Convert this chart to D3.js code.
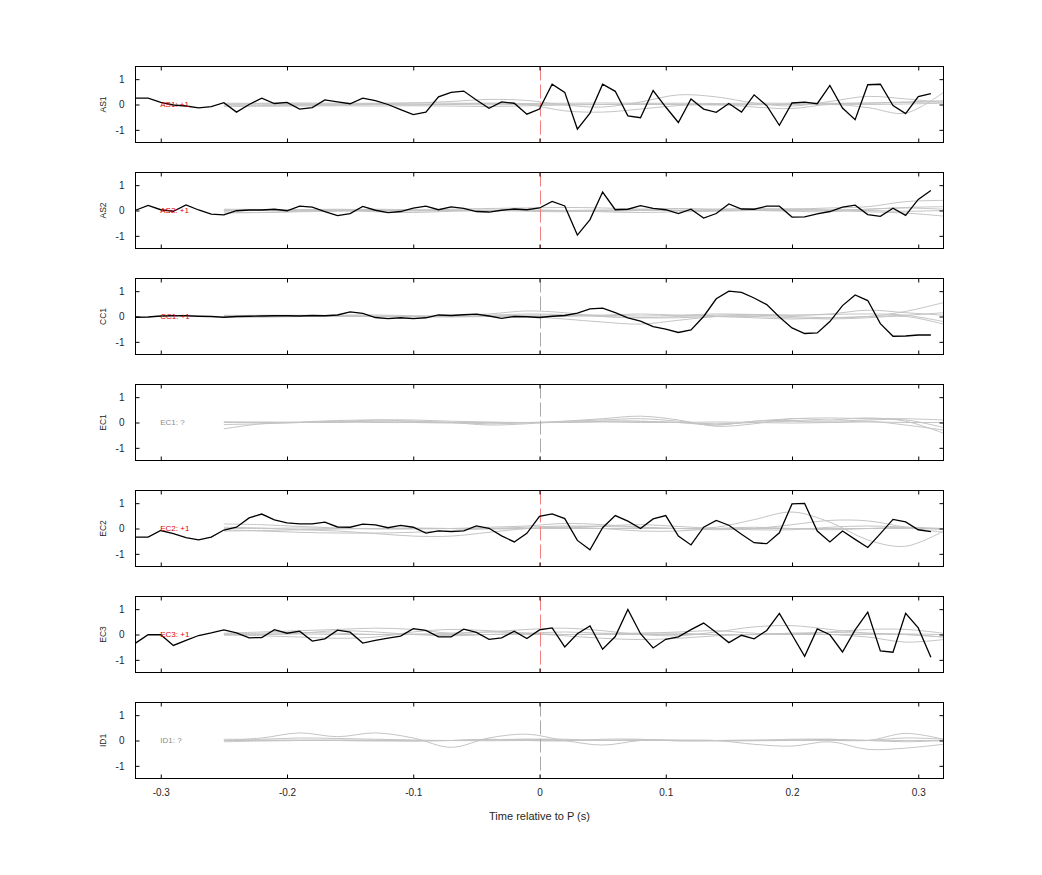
<!DOCTYPE html>
<html>
<head>
<meta charset="utf-8">
<script src="https://cdn.jsdelivr.net/npm/d3@7"></script>
<style>
  html, body { margin: 0; padding: 0; background: #fff; }
  svg { display: block; font-family: "Liberation Sans", Arial, Helvetica, sans-serif; }
</style>
</head>
<body>
<div id="chart"></div>
<script>
// ---------------- DATA ----------------
const channels = ["AS1", "AS2", "CC1", "EC1", "EC2", "EC3", "ID1"];
const panelLabels = ["AS1: +1", "AS2: +1", "CC1: +1", "EC1: ?", "EC2: +1", "EC3: +1", "ID1: ?"];
const xTicks = [-0.3, -0.2, -0.1, 0, 0.1, 0.2, 0.3];
const xTickLabels = ["-0.3", "-0.2", "-0.1", "0", "0.1", "0.2", "0.3"];
const yTicks = [-1, 0, 1];
const yTickLabels = ["-1", "0", "1"];
const xLabel = "Time relative to P (s)";

// black trace sample times: -0.32 .. 0.31 s, every 10 ms
const blackTimes = d3.range(64).map(i => Math.round((-0.32 + i * 0.01) * 100) / 100);

const blackAS1 = [0.25,0.25,0.08,-0.02,-0.06,-0.13,-0.08,0.07,-0.3,0.0,0.25,0.04,0.08,-0.18,-0.12,0.18,0.1,0.03,0.25,0.15,0.0,-0.2,-0.4,-0.3,0.3,0.48,0.53,0.18,-0.15,0.1,0.05,-0.38,-0.18,
  0.8,0.48,-0.97,-0.34,0.8,0.52,-0.45,-0.52,0.55,-0.1,-0.71,0.22,-0.18,-0.31,0.04,-0.3,0.38,-0.05,-0.82,0.06,0.09,0.03,0.75,-0.14,-0.6,0.78,0.8,-0.04,-0.36,0.31,0.43];
const blackAS2 = [0.01,0.2,0.03,-0.03,0.22,0.02,-0.14,-0.17,-0.01,0.02,0.02,0.05,-0.01,0.17,0.13,-0.04,-0.2,-0.12,0.16,0.01,-0.08,-0.04,0.09,0.17,0.03,0.14,0.08,-0.04,-0.06,0.01,0.06,0.03,0.1,
  0.36,0.18,-0.97,-0.36,0.73,0.03,0.05,0.19,0.08,0.03,-0.12,0.05,-0.3,-0.12,0.26,0.06,0.05,0.17,0.17,-0.26,-0.25,-0.13,-0.04,0.13,0.21,-0.16,-0.23,0.09,-0.19,0.44,0.79];
const blackCC1 = [-0.03,-0.02,0.02,0.03,0.03,0.01,0.0,-0.03,0.0,0.01,0.02,0.03,0.03,0.02,0.04,0.03,0.06,0.18,0.12,-0.04,-0.08,-0.05,-0.08,-0.05,0.06,0.04,0.07,0.09,0.02,-0.07,0.0,-0.01,-0.04,
  0.01,0.04,0.13,0.3,0.33,0.15,-0.05,-0.18,-0.4,-0.5,-0.63,-0.53,0.0,0.7,1.0,0.95,0.73,0.47,-0.02,-0.45,-0.67,-0.65,-0.2,0.43,0.85,0.63,-0.28,-0.78,-0.77,-0.73,-0.73];
const blackEC2 = [-0.34,-0.34,-0.08,-0.2,-0.36,-0.45,-0.34,-0.06,0.05,0.42,0.57,0.34,0.22,0.18,0.18,0.25,0.06,0.05,0.17,0.14,0.03,0.12,0.05,-0.18,-0.09,-0.12,-0.09,0.1,0.01,-0.29,-0.53,-0.19,0.48,
  0.58,0.39,-0.47,-0.84,0.03,0.51,0.29,0.0,0.38,0.51,-0.3,-0.65,0.05,0.32,0.13,-0.23,-0.56,-0.6,-0.17,0.97,0.99,-0.1,-0.53,-0.1,-0.43,-0.75,-0.2,0.36,0.26,-0.05,-0.12];
const blackEC3 = [-0.34,-0.01,-0.01,-0.43,-0.23,-0.04,0.06,0.18,0.06,-0.13,-0.12,0.19,0.05,0.13,-0.26,-0.17,0.17,0.09,-0.34,-0.23,-0.14,-0.06,0.23,0.16,-0.09,-0.09,0.21,0.08,-0.19,-0.13,0.13,-0.16,0.18,
  0.26,-0.49,0.03,0.34,-0.58,-0.08,0.99,0.03,-0.53,-0.19,-0.09,0.19,0.45,0.08,-0.32,-0.03,-0.17,0.16,0.83,-0.01,-0.86,0.22,-0.01,-0.69,0.18,0.88,-0.65,-0.7,0.84,0.26,-0.9];

// grey reference traces: sampled every 30 ms from -0.25 to 0.32 s
const greyTimes = [-0.25,-0.22,-0.19,-0.16,-0.13,-0.10,-0.07,-0.04,-0.01,0.02,0.05,0.08,0.11,0.14,0.17,0.20,0.23,0.26,0.29,0.32];

const greyAS1 = [
  [0.02,0.03,0.03,0.02,0.04,0.06,0.12,0.2,0.16,-0.02,-0.1,0.1,0.38,0.3,0.06,-0.06,0.12,0.32,0.22,0.08],
  [-0.05,-0.04,-0.03,-0.02,0.0,-0.02,0.02,0.05,0.0,-0.25,-0.3,-0.18,-0.04,0.0,-0.1,-0.16,0.0,-0.12,-0.34,0.48],
  [0.05,0.05,0.06,0.05,0.05,0.06,0.05,0.05,0.04,0.05,0.06,0.05,0.05,0.04,0.05,0.05,0.05,0.06,0.1,0.15],
  [-0.08,-0.07,-0.06,-0.05,-0.06,-0.05,-0.06,-0.08,-0.05,-0.02,0.0,0.02,0.0,-0.02,0.0,0.02,0.03,0.05,0.08,0.1],
  [0.0,0.01,0.0,-0.01,0.0,0.01,0.0,-0.01,0.0,0.01,0.0,0.0,0.01,0.0,-0.01,0.0,0.01,0.0,0.02,0.05]
];
const greyAS2 = [
  [0.0,0.02,0.03,0.05,0.02,0.0,0.05,0.08,0.1,0.12,0.1,0.05,0.0,0.05,0.08,0.06,0.1,0.15,0.35,0.4],
  [-0.05,-0.08,-0.03,0.0,-0.05,-0.08,-0.03,0.0,0.02,0.0,-0.05,-0.08,-0.05,-0.03,0.0,0.05,0.0,-0.05,-0.1,-0.22],
  [0.05,0.04,0.03,0.02,0.05,0.03,0.02,0.0,-0.03,-0.05,0.0,0.05,0.08,0.05,0.0,-0.03,-0.05,0.05,0.1,0.05],
  [-0.1,-0.08,-0.05,-0.03,0.0,-0.02,0.0,0.02,0.0,-0.02,-0.03,0.0,0.02,0.0,0.03,0.05,0.02,0.0,-0.03,0.0],
  [0.02,0.0,0.0,0.01,0.0,0.0,-0.01,0.0,0.0,0.0,0.02,0.0,0.0,0.0,0.0,0.0,0.02,0.05,0.12,0.15]
];
const greyCC1 = [
  [0.0,0.02,0.04,0.02,0.0,0.0,0.05,0.1,0.22,0.15,0.0,-0.05,0.0,0.05,0.08,0.05,0.1,0.25,0.15,0.05],
  [0.03,0.05,0.05,0.03,0.02,0.0,-0.02,0.0,0.0,-0.1,-0.22,-0.3,-0.15,0.0,0.05,0.0,-0.05,0.0,0.2,0.55],
  [-0.02,-0.03,0.0,0.02,0.0,-0.02,0.0,0.02,0.05,0.05,0.0,-0.05,-0.05,0.0,0.0,-0.05,-0.1,-0.05,0.0,-0.3],
  [0.05,0.03,0.02,0.05,0.06,0.03,0.0,0.05,0.1,0.08,0.05,0.02,0.05,0.1,0.08,0.05,0.08,0.1,0.05,-0.2],
  [0.0,0.0,0.01,0.0,0.0,0.01,0.0,0.0,0.0,0.0,0.05,0.1,0.05,0.0,-0.05,-0.1,-0.05,0.0,0.05,0.15]
];
const greyEC1 = [
  [-0.25,-0.05,0.0,0.02,0.1,0.05,0.0,-0.1,-0.05,0.05,0.15,0.25,0.1,-0.15,-0.05,0.15,0.1,0.18,0.05,-0.42],
  [0.03,0.0,0.02,0.08,0.1,0.1,0.05,0.02,0.0,0.05,0.1,0.15,0.05,-0.1,0.05,0.08,0.05,0.1,0.1,-0.2],
  [-0.08,-0.05,0.0,0.05,0.0,0.0,0.0,0.0,0.0,0.0,0.05,0.05,0.0,-0.05,0.0,0.05,0.0,0.05,-0.1,-0.3],
  [0.0,0.0,0.0,0.02,0.05,0.05,0.0,-0.05,-0.02,0.02,0.05,0.05,0.0,-0.1,0.05,0.15,0.18,0.15,0.15,0.1],
  [0.0,0.02,0.0,0.0,0.02,0.0,-0.02,0.0,0.0,0.0,0.02,0.0,0.0,0.02,0.0,-0.02,0.0,0.02,0.0,0.0]
];
const greyEC2 = [
  [0.18,0.15,0.08,0.02,-0.02,-0.02,0.0,0.05,0.1,0.2,0.15,0.05,0.0,0.05,0.35,0.65,0.25,-0.45,-0.7,-0.1],
  [-0.05,-0.1,-0.15,-0.18,-0.18,-0.15,-0.08,0.0,0.05,0.1,0.08,0.05,0.0,-0.05,0.0,0.15,0.32,0.3,0.05,-0.15],
  [0.05,0.02,-0.05,-0.1,-0.2,-0.3,-0.3,-0.15,0.0,0.05,0.0,-0.1,-0.1,0.0,0.05,0.0,-0.05,0.0,0.05,0.0],
  [0.0,0.0,0.02,0.0,0.0,0.0,0.0,0.0,0.0,0.0,0.0,0.0,0.0,0.0,0.0,0.0,0.0,0.0,0.0,0.0],
  [-0.1,-0.08,-0.05,-0.02,0.0,0.02,0.0,-0.02,0.0,0.05,0.1,0.15,0.08,0.0,-0.05,-0.05,0.05,0.1,0.05,-0.05]
];
const greyEC3 = [
  [0.05,0.1,0.15,0.2,0.25,0.2,0.05,0.1,0.2,0.25,0.15,0.0,-0.05,0.1,0.3,0.35,0.2,0.05,0.0,-0.1],
  [0.0,-0.05,-0.1,-0.15,-0.1,0.1,0.2,0.15,0.05,-0.05,-0.15,-0.2,-0.15,-0.05,0.0,0.05,0.0,-0.1,-0.3,-0.2],
  [-0.03,0.0,0.05,0.15,0.1,0.0,-0.05,0.0,0.05,0.1,0.05,0.05,0.1,0.15,0.05,0.0,0.1,0.2,0.2,0.05],
  [0.03,0.05,0.08,0.05,0.0,0.0,0.05,0.1,0.05,0.0,0.02,0.05,0.05,0.0,0.0,0.05,0.08,0.05,0.0,-0.1],
  [0.0,0.0,0.02,0.0,0.0,0.02,0.0,0.0,0.0,0.0,0.0,0.0,0.0,0.0,0.0,0.0,0.0,0.0,0.02,0.0]
];
const greyID1 = [
  [0.0,0.1,0.3,0.15,0.3,0.1,-0.27,0.1,0.25,0.0,-0.18,0.0,0.02,0.0,0.0,0.02,0.0,0.0,0.1,0.05],
  [0.0,0.0,0.02,0.0,-0.02,0.0,0.0,0.02,0.05,0.05,0.0,0.02,0.0,0.0,-0.15,-0.22,-0.05,-0.35,-0.3,-0.15],
  [-0.05,-0.02,0.0,0.02,0.0,-0.03,0.0,0.05,0.0,-0.02,0.05,0.05,-0.02,0.0,0.02,0.0,0.05,0.0,0.28,0.05],
  [0.05,0.05,0.1,0.08,0.05,0.02,0.0,0.03,0.05,0.02,0.0,0.02,0.0,-0.02,0.0,0.05,0.05,0.0,-0.05,0.0],
  [0.0,0.01,0.0,0.0,0.01,0.0,0.0,-0.01,0.0,0.0,0.01,0.0,0.0,0.0,-0.01,0.0,0.0,0.01,0.0,0.0]
];

const blackByChannel = { AS1: blackAS1, AS2: blackAS2, CC1: blackCC1, EC1: null, EC2: blackEC2, EC3: blackEC3, ID1: null };
const greyByChannel = { AS1: greyAS1, AS2: greyAS2, CC1: greyCC1, EC1: greyEC1, EC2: greyEC2, EC3: greyEC3, ID1: greyID1 };
const redMarkerChannels = new Set(["AS1", "AS2", "EC2", "EC3"]);

// ---------------- LAYOUT ----------------
const W = 1042, H = 875;
const left = 135.5, right = 943.5;
const firstTop = 66.5, panelH = 76, panelStep = 106;

const svg = d3.select("#chart").append("svg").attr("width", W).attr("height", H);

const x = d3.scaleLinear().domain([-0.32, 0.32]).range([left, right]);

channels.forEach((ch, i) => {
  const top = firstTop + i * panelStep;
  const bottom = top + panelH;
  const y = d3.scaleLinear().domain([-1.5, 1.5]).range([bottom, top]);
  const g = svg.append("g");

  const clipId = "clip" + i;
  svg.append("clipPath").attr("id", clipId)
    .append("rect").attr("x", left).attr("y", top).attr("width", right - left).attr("height", panelH);

  const plot = g.append("g").attr("clip-path", `url(#${clipId})`);

  // grey traces
  const gline = d3.line().x((d, k) => x(greyTimes[k])).y(d => y(d)).curve(d3.curveCatmullRom.alpha(0.5));
  greyByChannel[ch].forEach(series => {
    plot.append("path").attr("d", gline(series))
      .attr("fill", "none").attr("stroke", "#c4c4c4").attr("stroke-width", 1);
  });

  // zero-time marker
  plot.append("line")
    .attr("x1", Math.round(x(0)) + 0.5).attr("x2", Math.round(x(0)) + 0.5)
    .attr("y1", top).attr("y2", bottom)
    .attr("stroke", redMarkerChannels.has(ch) ? "#f08080" : "#a8a8a8")
    .attr("stroke-width", 1)
    .attr("stroke-dasharray", "14,4");

  // black trace
  const bl = blackByChannel[ch];
  if (bl) {
    const line = d3.line().x((d, k) => x(blackTimes[k])).y(d => y(d));
    plot.append("path").attr("d", line(bl))
      .attr("fill", "none").attr("stroke", "#000").attr("stroke-width", 1.3)
      .attr("stroke-linejoin", "miter");
  }

  // panel label
  const lbl = panelLabels[i];
  g.append("text")
    .attr("x", x(-0.3) - 0.5).attr("y", y(0))
    .attr("dy", "0.35em")
    .attr("font-size", 8)
    .attr("fill", lbl.endsWith("?") ? "#8c8c8c" : "#e00000")
    .text(lbl);

  // frame
  g.append("rect").attr("x", left).attr("y", top).attr("width", right - left).attr("height", panelH)
    .attr("fill", "none").attr("stroke", "#000").attr("stroke-width", 1);

  // axes (ticks inward on all sides)
  const tl = 4;
  const axB = d3.axisBottom(x).tickValues(xTicks).tickSize(-tl).tickFormat(i === channels.length - 1 ? (d, k) => xTickLabels[k] : "").tickPadding(10);
  const axT = d3.axisTop(x).tickValues(xTicks).tickSize(-tl).tickFormat("");
  const axL = d3.axisLeft(y).tickValues(yTicks).tickSize(-tl).tickFormat((d, k) => yTickLabels[k]).tickPadding(11);
  const axR = d3.axisRight(y).tickValues(yTicks).tickSize(-tl).tickFormat("");

  [[axB, `translate(0,${bottom})`], [axT, `translate(0,${top})`], [axL, `translate(${left},0)`], [axR, `translate(${right},0)`]]
    .forEach(([ax, tr]) => {
      const a = g.append("g").attr("transform", tr).call(ax);
      a.select(".domain").remove();
      a.selectAll(".tick line").attr("stroke", "#000");
      a.selectAll("text").attr("fill", "#262626").attr("font-size", 10)
        .attr("font-family", "'Liberation Sans', Arial, sans-serif");
    });

  // y label
  g.append("text")
    .attr("transform", `translate(${106},${y(0)}) rotate(-90)`)
    .attr("text-anchor", "middle")
    .attr("font-size", 8.5)
    .attr("fill", "#262626")
    .text(ch);
});

// x axis label
svg.append("text")
  .attr("x", x(0)).attr("y", 820)
  .attr("text-anchor", "middle")
  .attr("font-size", 11)
  .attr("fill", "#262626")
  .text(xLabel);
</script>
</body>
</html>
